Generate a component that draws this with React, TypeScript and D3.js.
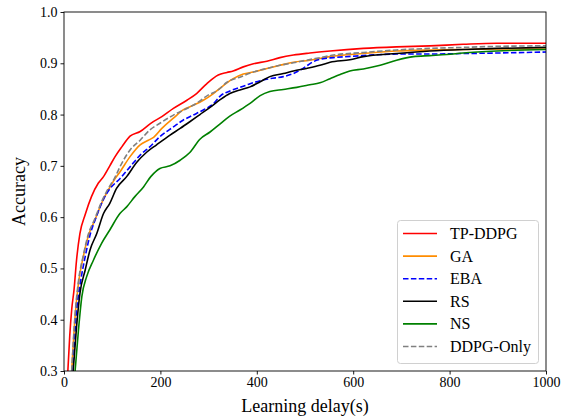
import React, { useEffect, useRef } from "react";
import * as d3 from "d3";

// Learning delay (s) vs. accuracy for each scheduling method, [delay, accuracy]
const tpDdpg: [number, number][] = [
  [8, 0.3], [12, 0.37], [16, 0.42], [21, 0.46], [26, 0.516], [33, 0.568], [44, 0.605], [57, 0.64],
  [71, 0.666], [82, 0.679], [95, 0.7], [106, 0.718], [120, 0.737], [137, 0.758], [158, 0.767],
  [180, 0.783], [203, 0.796], [227, 0.812], [255, 0.828], [275, 0.841], [296, 0.86], [320, 0.877],
  [338, 0.882], [351, 0.885], [372, 0.893], [393, 0.899], [421, 0.904], [448, 0.911], [476, 0.916],
  [510, 0.92], [552, 0.924], [621, 0.929], [690, 0.932], [759, 0.934], [828, 0.937], [898, 0.939],
  [1000, 0.939],
];
const ga: [number, number][] = [
  [16, 0.3], [23, 0.406], [30, 0.471], [40, 0.523], [50, 0.562], [64, 0.594], [78, 0.627], [92, 0.653],
  [106, 0.675], [116, 0.688], [137, 0.718], [158, 0.741], [175, 0.75], [185, 0.755], [203, 0.773],
  [227, 0.793], [247, 0.809], [268, 0.818], [289, 0.828], [310, 0.841], [330, 0.856], [351, 0.87],
  [372, 0.879], [393, 0.883], [421, 0.89], [448, 0.896], [476, 0.902], [510, 0.906], [552, 0.913],
  [621, 0.919], [690, 0.924], [759, 0.926], [828, 0.927], [898, 0.928], [1000, 0.928],
];
const eba: [number, number][] = [
  [18, 0.3], [25, 0.406], [33, 0.466], [44, 0.523], [54, 0.565], [68, 0.603], [82, 0.635], [95, 0.655],
  [116, 0.675], [137, 0.698], [158, 0.721], [178, 0.737], [199, 0.757], [227, 0.776], [247, 0.789],
  [268, 0.799], [289, 0.809], [310, 0.821], [324, 0.836], [344, 0.846], [365, 0.853], [386, 0.86],
  [407, 0.866], [427, 0.87], [455, 0.874], [476, 0.88], [496, 0.89], [517, 0.903], [538, 0.909],
  [559, 0.911], [621, 0.915], [690, 0.918], [759, 0.918], [828, 0.919], [898, 0.92], [1000, 0.922],
];
const rs: [number, number][] = [
  [19, 0.3], [26, 0.386], [33, 0.451], [44, 0.497], [54, 0.536], [68, 0.568], [82, 0.607], [95, 0.627],
  [109, 0.656], [130, 0.679], [151, 0.707], [172, 0.727], [192, 0.741], [220, 0.76], [241, 0.773],
  [261, 0.786], [282, 0.8], [303, 0.814], [324, 0.829], [344, 0.841], [365, 0.848], [386, 0.854],
  [407, 0.864], [427, 0.874], [455, 0.88], [476, 0.885], [503, 0.89], [531, 0.896], [552, 0.902],
  [593, 0.907], [621, 0.913], [690, 0.919], [759, 0.924], [828, 0.927], [898, 0.929], [1000, 0.931],
];
const ns: [number, number][] = [
  [23, 0.3], [30, 0.38], [37, 0.445], [47, 0.484], [61, 0.516], [78, 0.549], [95, 0.575], [116, 0.607],
  [130, 0.62], [147, 0.64], [165, 0.659], [180, 0.679], [199, 0.695], [220, 0.7], [241, 0.711],
  [261, 0.726], [282, 0.752], [303, 0.766], [324, 0.782], [344, 0.797], [365, 0.809], [386, 0.822],
  [407, 0.837], [427, 0.845], [455, 0.849], [483, 0.853], [510, 0.858], [531, 0.862], [552, 0.87],
  [573, 0.878], [593, 0.885], [621, 0.889], [656, 0.896], [690, 0.906], [725, 0.913], [759, 0.915],
  [794, 0.917], [828, 0.92], [898, 0.924], [1000, 0.927],
];
const ddpgOnly: [number, number][] = [
  [16, 0.3], [23, 0.41], [30, 0.475], [40, 0.525], [50, 0.565], [64, 0.597], [78, 0.63], [92, 0.656],
  [106, 0.678], [116, 0.698], [137, 0.731], [158, 0.75], [178, 0.77], [199, 0.783], [227, 0.799],
  [255, 0.812], [275, 0.822], [299, 0.838], [320, 0.848], [338, 0.863], [365, 0.873], [393, 0.883],
  [421, 0.89], [448, 0.896], [476, 0.901], [503, 0.906], [531, 0.911], [559, 0.916], [621, 0.921],
  [690, 0.926], [759, 0.929], [828, 0.931], [898, 0.933], [1000, 0.934],
];

const seriesNames = ["TP-DDPG", "GA", "EBA", "RS", "NS", "DDPG-Only"];
const seriesData = [tpDdpg, ga, eba, rs, ns, ddpgOnly];
const seriesColors = ["#ff0000", "#ff8c00", "#0000ff", "#000000", "#008000", "#808080"];
const seriesDashed = [false, false, true, false, false, true];

const xTicks = [0, 200, 400, 600, 800, 1000];
const yTicks = [0.3, 0.4, 0.5, 0.6, 0.7, 0.8, 0.9, 1.0];

const W = 563;
const H = 419;
const M = { left: 64, right: 17, top: 12, bottom: 48 };
const FONT = "'Liberation Serif', 'Times New Roman', serif";

export default function App() {
  const ref = useRef<SVGSVGElement>(null);

  useEffect(() => {
    const svg = d3.select(ref.current);
    svg.selectAll("*").remove();

    const x = d3.scaleLinear().domain([0, 1000]).range([M.left, W - M.right]);
    const y = d3.scaleLinear().domain([0.3, 1.0]).range([H - M.bottom, M.top]);

    svg.append("rect").attr("width", W).attr("height", H).attr("fill", "#fff");

    svg.append("clipPath").attr("id", "plotClip")
      .append("rect")
      .attr("x", M.left).attr("y", M.top)
      .attr("width", W - M.left - M.right).attr("height", H - M.top - M.bottom);

    const line = d3.line<[number, number]>()
      .x((d) => x(d[0]))
      .y((d) => y(d[1]))
      .curve(d3.curveMonotoneX);

    const lines = svg.append("g").attr("clip-path", "url(#plotClip)");
    seriesData.forEach((data, i) => {
      lines.append("path")
        .datum(data)
        .attr("d", line)
        .attr("fill", "none")
        .attr("stroke", seriesColors[i])
        .attr("stroke-width", 1.6)
        .attr("stroke-dasharray", seriesDashed[i] ? "5.5,2.4" : null)
        .attr("stroke-linejoin", "round");
    });

    // Axes
    const xAxis = d3.axisBottom(x).tickValues(xTicks).tickSize(3.5).tickPadding(3)
      .tickFormat((d) => String(d));
    const yAxis = d3.axisLeft(y).tickValues(yTicks).tickSize(3.5).tickPadding(3)
      .tickFormat((d) => (d as number).toFixed(1));

    const gx = svg.append("g").attr("transform", `translate(0,${H - M.bottom})`).call(xAxis);
    const gy = svg.append("g").attr("transform", `translate(${M.left},0)`).call(yAxis);
    [gx, gy].forEach((g) => {
      g.select(".domain").remove();
      g.selectAll(".tick line").attr("stroke", "#000").attr("stroke-width", 0.9);
      g.selectAll(".tick text")
        .attr("font-family", FONT)
        .attr("font-size", 14)
        .attr("fill", "#000");
    });

    // Frame
    svg.append("rect")
      .attr("x", M.left).attr("y", M.top)
      .attr("width", W - M.left - M.right).attr("height", H - M.top - M.bottom)
      .attr("fill", "none").attr("stroke", "#000").attr("stroke-width", 0.9);

    // Axis titles
    svg.append("text")
      .attr("x", (M.left + W - M.right) / 2).attr("y", 412)
      .attr("text-anchor", "middle")
      .attr("font-family", FONT).attr("font-size", 18)
      .text("Learning delay(s)");
    svg.append("text")
      .attr("transform", `translate(25,${(M.top + H - M.bottom) / 2}) rotate(-90)`)
      .attr("text-anchor", "middle")
      .attr("font-family", FONT).attr("font-size", 18)
      .text("Accuracy");

    // Legend
    const lg = svg.append("g");
    lg.append("rect")
      .attr("x", 397.5).attr("y", 220.5).attr("width", 141).attr("height", 143)
      .attr("rx", 3).attr("fill", "#fff").attr("fill-opacity", 0.8)
      .attr("stroke", "#d0d0d0").attr("stroke-width", 1);
    seriesNames.forEach((name, i) => {
      const cy = 233.5 + i * 22.6;
      lg.append("line")
        .attr("x1", 403).attr("x2", 437).attr("y1", cy).attr("y2", cy)
        .attr("stroke", seriesColors[i]).attr("stroke-width", 1.6)
        .attr("stroke-dasharray", seriesDashed[i] ? "5.5,2.4" : null);
      lg.append("text")
        .attr("x", 450).attr("y", cy + 5.5)
        .attr("font-family", FONT).attr("font-size", 16)
        .text(name);
    });
  }, []);

  return (
    <svg
      ref={ref}
      width={W}
      height={H}
      style={{ position: "absolute", left: 0, top: 0, display: "block" }}
    />
  );
}
